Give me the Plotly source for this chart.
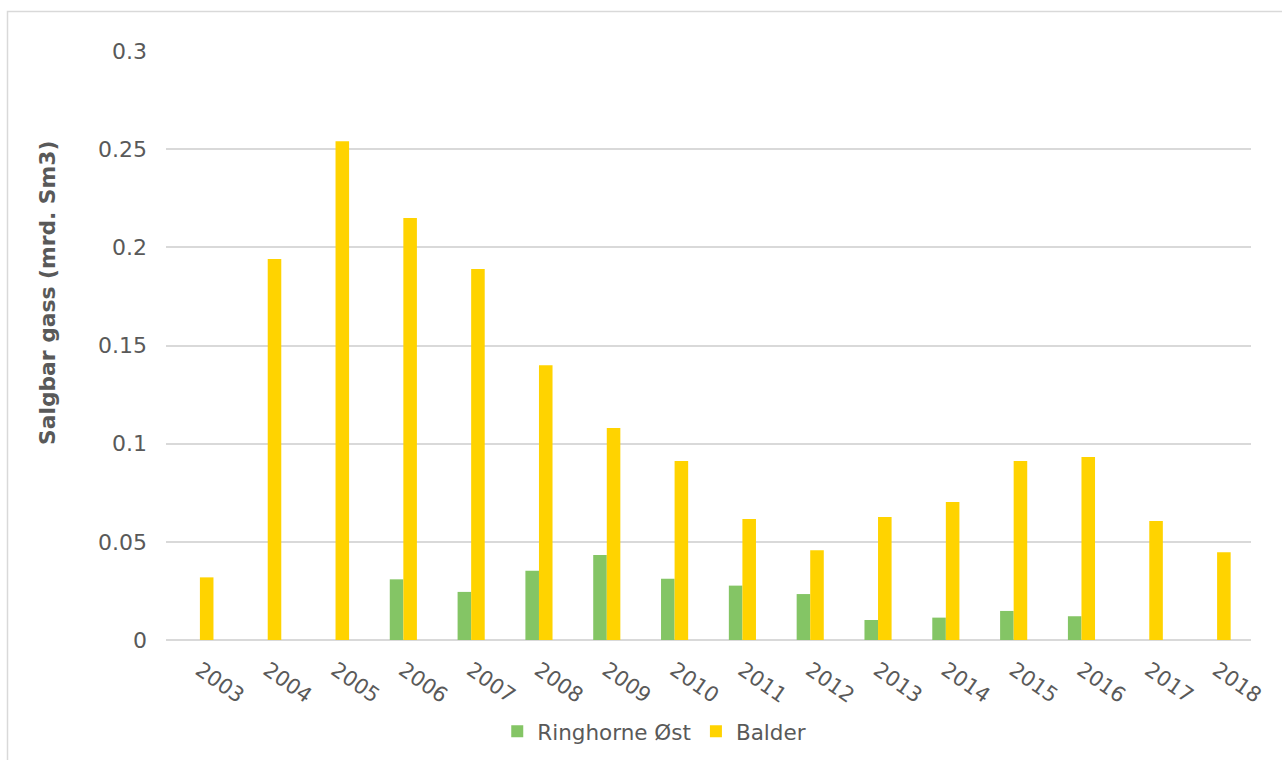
import plotly.graph_objects as go

years = ["2003", "2004", "2005", "2006", "2007", "2008", "2009", "2010",
         "2011", "2012", "2013", "2014", "2015", "2016", "2017", "2018"]
ringhorne_ost = [None, None, None, 0.0309, 0.0245, 0.0353, 0.0433, 0.0312,
                 0.0277, 0.0234, 0.0102, 0.0114, 0.0148, 0.0121, None, None]
balder = [0.0319, 0.194, 0.254, 0.215, 0.189, 0.140, 0.108, 0.0912,
          0.0616, 0.0457, 0.0626, 0.0703, 0.0912, 0.0932, 0.0606, 0.0447]

FONT = "DejaVu Sans"
TXT = "#595959"

fig = go.Figure()
fig.add_trace(go.Bar(x=years, y=ringhorne_ost, name="Ringhorne Øst",
                     marker=dict(color="#84C565", line=dict(width=0))))
fig.add_trace(go.Bar(x=years, y=balder, name="Balder",
                     marker=dict(color="#FFD300", line=dict(width=0))))

fig.update_layout(
    width=1282, height=760,
    margin=dict(l=166, r=31, t=51, b=120, autoexpand=False),
    paper_bgcolor="white", plot_bgcolor="white",
    barmode="group", bargap=0.6, bargroupgap=0,
    font=dict(family=FONT, size=21, color=TXT),
    showlegend=True,
    legend=dict(orientation="h", x=0.45, xanchor="center", y=-0.155, yanchor="middle",
                font=dict(family=FONT, size=21.5, color=TXT), itemwidth=30,
                bgcolor="rgba(0,0,0,0)"),
    xaxis=dict(type="category", tickangle=35, showgrid=False, showline=False,
               automargin=False,
               ticks="", tickfont=dict(family=FONT, size=21, color=TXT),
               ticklabelstandoff=13),
    yaxis=dict(range=[0, 0.3], dtick=0.05, showgrid=True, gridcolor="#D9D9D9",
               automargin=False,
               gridwidth=1.5, zeroline=True, zerolinecolor="#D9D9D9", zerolinewidth=1.5,
               showline=False, ticks="", tickfont=dict(family=FONT, size=22, color=TXT),
               ticklabelstandoff=18),
    annotations=[dict(text="<b>Salgbar gass (mrd. Sm3)</b>", xref="paper", yref="paper",
                      x=(47 - 166) / 1085, y=(640 - 293) / 589, textangle=-90,
                      showarrow=False, xanchor="center", yanchor="middle",
                      font=dict(family=FONT, size=21.8, color=TXT))],
    shapes=[dict(type="rect", xref="paper", yref="paper",
                 x0=(7.5 - 166) / 1085, x1=1.2, y0=-0.4, y1=(640 - 11.5) / 589,
                 line=dict(color="#D9D9D9", width=1.5), fillcolor="rgba(0,0,0,0)",
                 layer="below")],
)

fig.write_html("out.html")
